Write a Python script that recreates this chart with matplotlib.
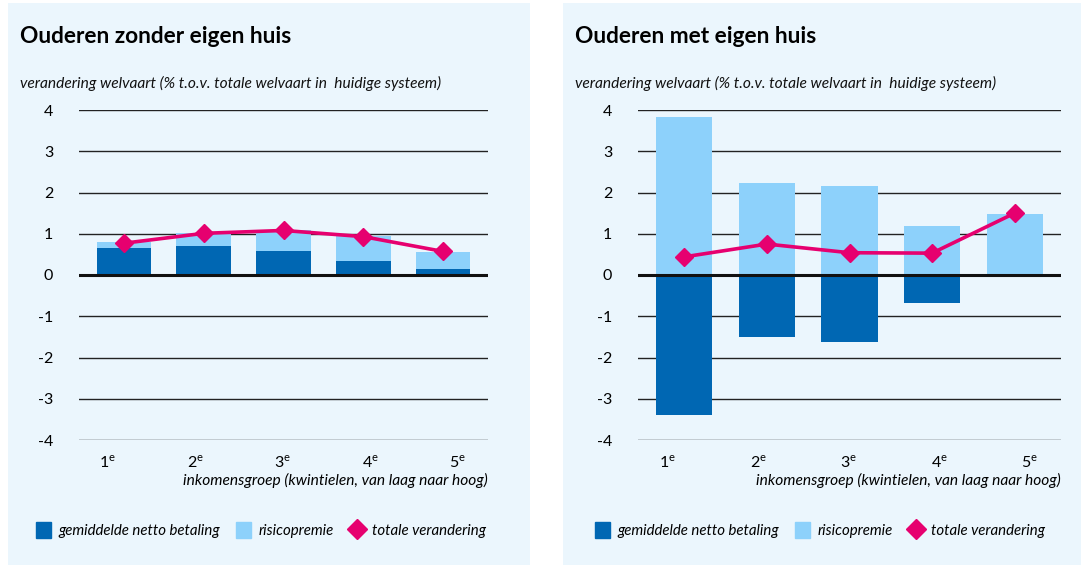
import numpy as np
import matplotlib
matplotlib.use("Agg")
import matplotlib.pyplot as plt
from matplotlib.patches import Rectangle
from matplotlib.lines import Line2D

plt.rcParams['font.family'] = ['Lato', 'DejaVu Sans']
plt.rcParams['axes.unicode_minus'] = False
plt.rcParams['mathtext.fontset'] = 'custom'
plt.rcParams['mathtext.rm'] = 'Lato'

# data
groups = ["1", "2", "3", "4", "5"]

zonder_netto = [0.66, 0.71, 0.58, 0.34, 0.15]
zonder_premie = [0.14, 0.30, 0.51, 0.61, 0.41]
zonder_totaal = [0.77, 1.01, 1.08, 0.93, 0.57]

met_netto = [-3.39, -1.50, -1.62, -0.67, 0.0]
met_premie = [3.83, 2.23, 2.16, 1.19, 1.48]
met_totaal = [0.44, 0.75, 0.54, 0.53, 1.50]

titles = ["Ouderen zonder eigen huis", "Ouderen met eigen huis"]
subtitle = "verandering welvaart (% t.o.v. totale welvaart in  huidige systeem)"
xlabel = "inkomensgroep (kwintielen, van laag naar hoog)"
legend_labels = ["gemiddelde netto betaling", "risicopremie", "totale verandering"]

DARK = "#0067b3"
LIGHT = "#8dd1fb"
PINK = "#e6006f"
BG = "#ebf6fd"

W, H = 1081, 565
fig = plt.figure(figsize=(W / 100, H / 100), dpi=100)
fig.patch.set_facecolor("white")


def px_box(x0, y0, x1, y1):
    # pixel box (top-left origin) -> figure fraction rect
    return [x0 / W, 1 - y1 / H, (x1 - x0) / W, (y1 - y0) / H]


def draw_panel(panel_x, ax_x0, ax_x1, title, netto, premie, totaal):
    fig.patches.append(Rectangle((panel_x[0] / W, 0), (panel_x[1] - panel_x[0]) / W, 1 - 3 / H,
                                 transform=fig.transFigure, facecolor=BG, edgecolor="none", zorder=-5))
    fig.text((panel_x[0] + 12) / W, 1 - 43 / H, title, fontsize=16.3, fontweight="bold", color="black")
    fig.text((panel_x[0] + 12) / W, 1 - 88 / H, subtitle, fontsize=11.2, style="italic", color="#111111")

    ax = fig.add_axes(px_box(ax_x0, 110, ax_x1, 440))
    ax.set_facecolor("none")
    x = np.arange(len(groups))
    netto = np.array(netto)
    premie = np.array(premie)
    bottom = np.clip(netto, 0, None)
    ax.bar(x, netto, 0.68, color=DARK, zorder=3)
    ax.bar(x, premie, 0.68, bottom=bottom, color=LIGHT, zorder=3)
    ax.plot(x, totaal, color=PINK, lw=2.6, marker="D", markersize=9, zorder=5)

    ax.set_ylim(-4, 4)
    ax.set_xlim(-0.56, 4.56)
    ax.set_yticks(range(-4, 5))
    ax.grid(axis="y", color="#222222", lw=1.0, zorder=1)
    ax.axhline(0, color="#111111", lw=2.2, zorder=4)
    for s in ax.spines.values():
        s.set_visible(False)
    ax.tick_params(axis="both", length=0, labelsize=11.5)
    ax.tick_params(axis="y", pad=18.5)
    ax.tick_params(axis="x", pad=10)
    # the reference spaces the category labels slightly wider than the bars
    ax.set_xticks(np.linspace(-0.2, 4.18, len(groups)))
    ax.set_xticklabels([g + r"$^{\mathregular{e}}$" for g in groups])
    ax.set_xlabel(xlabel, fontsize=11.2, style="italic", loc="right", labelpad=2)

    handles = [Rectangle((0, 0), 1, 1, color=DARK), Rectangle((0, 0), 1, 1, color=LIGHT),
               Line2D([], [], color=PINK, marker="D", lw=0, markersize=10)]
    fig.legend(handles, legend_labels, loc="center left",
               bbox_to_anchor=((ax_x0 - 49) / W, 1 - 530 / H), ncol=3, frameon=False,
               prop={"size": 10.8, "style": "italic"}, handlelength=1.0, handleheight=1.2,
               handletextpad=0.5, columnspacing=1.05, borderaxespad=0)
    return ax


draw_panel((8, 530), 79, 488, titles[0], zonder_netto, zonder_premie, zonder_totaal)
draw_panel((563, 1081), 638, 1061, titles[1], met_netto, met_premie, met_totaal)

fig.savefig("out.png", dpi=100)
